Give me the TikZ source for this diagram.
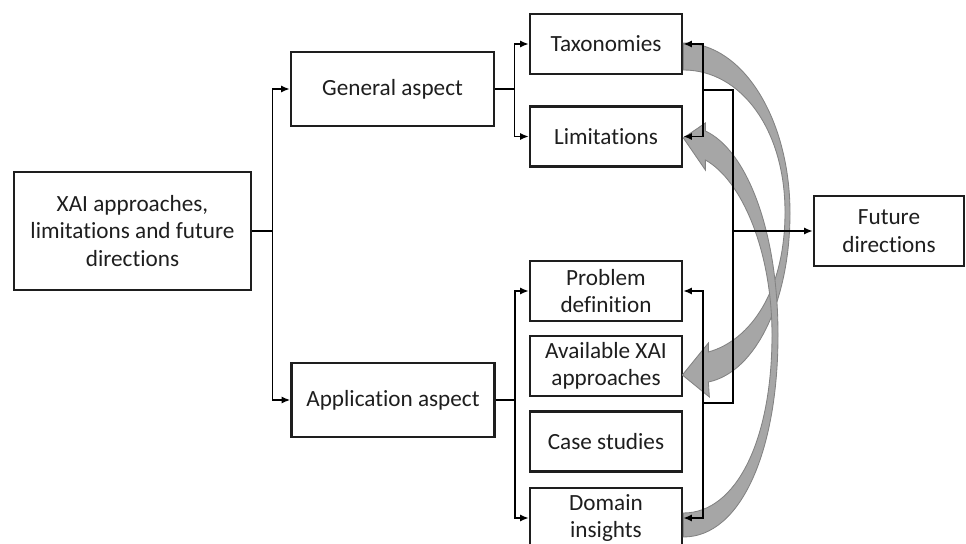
\documentclass[tikz,border=0pt]{standalone}
\usepackage{fontspec}
\setmainfont{Carlito}[Ligatures=NoCommon]
\usepackage{tikz}
\usetikzlibrary{arrows.meta,positioning,calc}
\definecolor{boxline}{RGB}{30,30,30}
\definecolor{textgray}{RGB}{30,30,30}
\definecolor{bandfill}{RGB}{166,166,166}
\definecolor{bandline}{RGB}{130,130,130}

\begin{document}
\begin{tikzpicture}[x=0.025cm, y=-0.025cm,
    box/.style={draw=boxline, line width=1.9pt, text=textgray, align=center,
      inner sep=0pt, font=\fontsize{16.5}{19.5}\selectfont},
    conn/.style={line width=1pt},
    link/.style={conn, -{Latex[length=6pt,width=5pt]}},
    band/.style={fill=bandfill, draw=bandline, line width=0.6pt}]
  \useasboundingbox (0,0) rectangle (966,544);

  % Main box
  \node[box, minimum width=5.925cm, minimum height=2.95cm] (root) at (132.5,231)
    {XAI approaches,\\ limitations and future\\ directions};

  % Aspects
  \node[box, minimum width=5.075cm, minimum height=1.85cm] (gen) at (392.5,89) {General aspect};
  \node[box, minimum width=5.075cm, minimum height=1.85cm] (app) at (393,400) {Application aspect};

  % Topics
  \node[box, minimum width=3.8cm, minimum height=1.5cm] (tax) at (606,44) {Taxonomies};
  \node[box, minimum width=3.8cm, minimum height=1.5cm] (lim) at (606,136.5) {Limitations};
  \node[box, minimum width=3.8cm, minimum height=1.5cm] (prob) at (606,291) {Problem\\ definition};
  \node[box, minimum width=3.8cm, minimum height=1.5cm] (avail) at (606,366) {Available XAI\\ approaches};
  \node[box, minimum width=3.8cm, minimum height=1.5cm] (case) at (606,441.5) {Case studies};
  \node[box, minimum width=3.8cm, minimum height=1.5cm] (dom) at (606,518) {Domain\\ insights};

  \node[box, minimum width=3.75cm, minimum height=1.75cm] (fut) at (889,231) {Future\\ directions};

  % Gray curved arrows
  \path[band] ($(tax.east)+(0,-1)$) .. controls +(60,0) and +(0,-93) .. (790,213)
    .. controls +(0,87) and +(48,-10) .. ($(avail.east)+(25,16)$)
    -- ($(avail.east)+(26,31)$) -- ($(avail.east)+(-1,9)$) -- ($(avail.east)+(25,-23)$)
    -- ($(avail.east)+(25,-14)$) .. controls +(43,-12) and +(0,78) .. (785,212)
    .. controls +(0,-82) and +(58,0) .. ($(tax.east)+(0,26)$) -- cycle;
  \path[band] ($(dom.east)+(0,19)$) .. controls +(58,0) and +(0,115) .. (778,335)
    .. controls +(0,-105) and +(41,19) .. ($(lim.east)+(22,-5.5)$)
    -- ($(lim.east)+(22,-13.5)$) -- ($(lim.east)+(0,1.5)$) -- ($(lim.east)+(22,33.5)$)
    -- ($(lim.east)+(22,23.5)$) .. controls +(36,20) and +(0,-85) .. (772,335)
    .. controls +(0,105) and +(53,0) .. ($(dom.east)+(0,-5)$) -- cycle;

  % Left tree
  \draw[link] (root.east) -- ++(20,0) |- (gen.west);
  \draw[link] (root.east) -- ++(20,0) |- (app.west);
  \draw[link] (gen.east) -- ++(19,0) |- (tax.west);
  \draw[link] (gen.east) -- ++(19,0) |- (lim.west);
  \draw[link] (app.east) -- ++(19,0) |- (prob.west);
  \draw[link] (app.east) -- ++(19,0) |- (dom.west);

  % Right brackets
  \coordinate (upjoin) at (703,90);
  \coordinate (lowjoin) at (703,403);
  \coordinate (hub) at (733,231);
  \draw[link] (upjoin) |- (tax.east);
  \draw[link] (upjoin) |- (lim.east);
  \draw[link] (lowjoin) |- (prob.east);
  \draw[link] (lowjoin) |- (dom.east);
  \draw[conn] (upjoin) -| (hub) |- (lowjoin);
  \draw[link] (hub) -- (fut.west);
\end{tikzpicture}
\end{document}
